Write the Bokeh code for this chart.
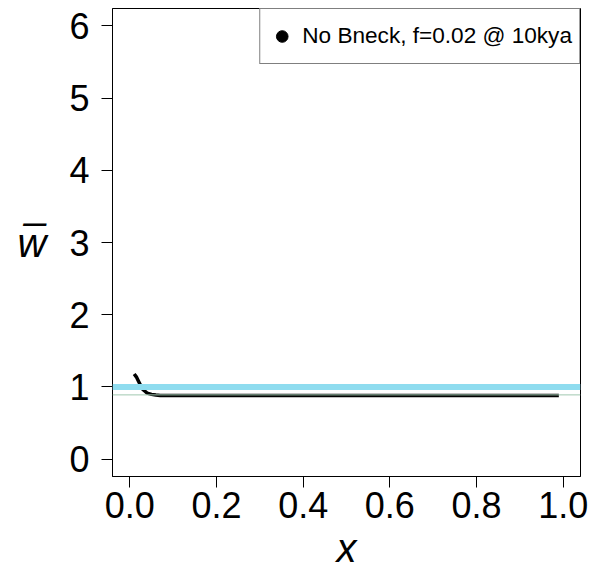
from bokeh.plotting import figure
from bokeh.models import Range1d, FixedTicker, Span, Legend, LegendItem
from bokeh.embed import file_html
from bokeh.resources import INLINE

# data
x_vals = [0.01, 0.015, 0.02, 0.025, 0.03, 0.035, 0.04, 0.05, 0.06, 0.07, 0.08, 0.1,
          0.2, 0.3, 0.4, 0.5, 0.6, 0.7, 0.8, 0.9, 0.99]
w_vals = [1.18, 1.14, 1.08, 1.02, 0.965, 0.94, 0.915, 0.897, 0.888, 0.883, 0.881, 0.88,
          0.88, 0.88, 0.88, 0.88, 0.88, 0.88, 0.88, 0.88, 0.88]
ref_line_blue = 1.0
ref_line_green = 0.89
x_ticks = [0.0, 0.2, 0.4, 0.6, 0.8, 1.0]
x_tick_labels = ["0.0", "0.2", "0.4", "0.6", "0.8", "1.0"]
y_ticks = [0, 1, 2, 3, 4, 5, 6]
legend_label = "No Bneck, f=0.02 @ 10kya"

FONT = "Liberation Sans"

p = figure(width=591, height=572, output_backend="svg", toolbar_location=None,
           x_range=Range1d(-0.04, 1.04), y_range=Range1d(-0.24, 6.24),
           min_border_left=112, min_border_right=11, min_border_top=8, min_border_bottom=96)
p.grid.visible = False
p.outline_line_color = "black"
p.outline_line_width = 1
p.background_fill_color = "white"
p.border_fill_color = "white"

p.add_layout(Span(location=ref_line_blue, dimension="width", line_color="#8fdcef", line_width=6))
p.add_layout(Span(location=ref_line_green, dimension="width", line_color="#a0c8b0", line_width=1))

p.line(x_vals, w_vals, line_color="black", line_width=3.5)

dummy = p.scatter([float("nan")], [float("nan")], marker="circle", size=9,
                  fill_color="black", line_color="black")
leg = Legend(items=[LegendItem(label=legend_label, renderers=[dummy])],
             location="top_right", margin=0, padding=7, spacing=0,
             glyph_width=29, glyph_height=40, label_height=40, label_standoff=6,
             label_text_font=FONT, label_text_font_size="22.6px", label_text_color="black",
             border_line_color="black", border_line_width=1, background_fill_alpha=1.0)
p.add_layout(leg)

for ax in (p.xaxis[0], p.yaxis[0]):
    ax.major_label_text_font = FONT
    ax.major_label_text_font_size = "36px"
    ax.major_label_text_color = "black"
    ax.major_tick_out = 11
    ax.major_tick_in = 0
    ax.minor_tick_out = 0
    ax.minor_tick_in = 0
    ax.axis_line_color = "black"
    ax.major_tick_line_color = "black"
    ax.axis_label_text_font = FONT
    ax.axis_label_text_font_style = "italic"
    ax.axis_label_text_font_size = "40px"
    ax.axis_label_text_color = "black"

p.xaxis.ticker = FixedTicker(ticks=x_ticks)
p.xaxis.major_label_overrides = {t: s for t, s in zip(x_ticks, x_tick_labels)}
p.xaxis.major_label_standoff = 4
p.xaxis.axis_label = "x"
p.xaxis.axis_label_standoff = 5

p.yaxis.ticker = FixedTicker(ticks=y_ticks)
p.yaxis.major_label_standoff = 12
p.yaxis.axis_label = "w\u0305"
p.yaxis.axis_label_orientation = "horizontal"
p.yaxis.axis_label_standoff = 20

open("out.html", "w").write(file_html(p, INLINE))
